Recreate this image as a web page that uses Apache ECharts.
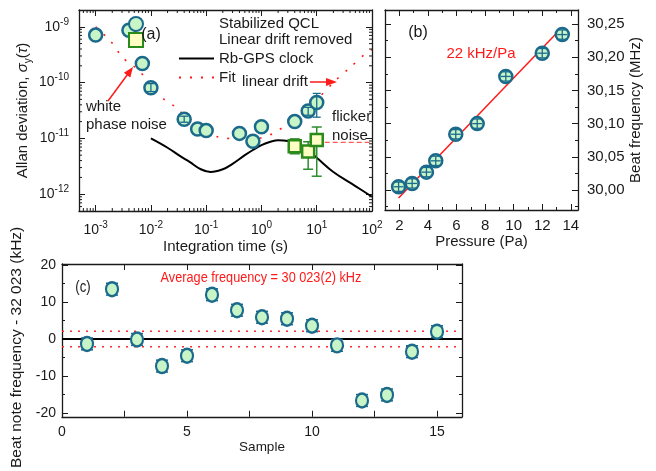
<!DOCTYPE html>
<html>
<head>
<meta charset="utf-8">
<script src="https://cdn.jsdelivr.net/npm/echarts@6/dist/echarts.min.js"></script>
<style>
  html, body { margin: 0; padding: 0; background: #fff; }
  #chart { width: 656px; height: 471px; }
</style>
</head>
<body>
<div id="chart"></div>
<script>
// ---- panel (a): Allan deviation ----
const tauQCL = [0.001, 0.004, 0.007, 0.01, 0.04, 0.07, 0.1, 0.4, 0.7, 1, 4, 7, 10]
const adevQCL = [7.1e-10, 8.7e-10, 2.2e-10, 8.1e-11, 2.2e-11, 1.47e-11, 1.38e-11, 1.23e-11, 8.9e-12, 1.62e-11, 2.0e-11, 3.1e-11, 4.4e-11]
const adevQCLlo = [null, null, null, 6.9e-11, 1.95e-11, null, null, null, null, null, null, 2.6e-11, 2.4e-11]
const adevQCLhi = [null, null, null, 9.6e-11, 2.5e-11, null, null, null, null, null, null, 3.6e-11, 6.4e-11]

const tauLDR = [4, 7, 10]
const adevLDR = [7.2e-12, 5.8e-12, 9.4e-12]
const adevLDRlo = [5.3e-12, 2.8e-12, 2.1e-12]
const adevLDRhi = [9.8e-12, 8.7e-12, 1.6e-11]

const tauRb = [0.01, 0.02, 0.035, 0.05, 0.08, 0.12, 0.2, 0.3, 0.5, 0.7, 1, 1.5, 2, 3, 5, 7, 10, 20, 50, 100]
const adevRb = [1.0e-11, 6.8e-12, 4.7e-12, 3.8e-12, 2.8e-12, 2.5e-12, 2.8e-12, 3.5e-12, 5.0e-12, 6.2e-12, 7.6e-12, 8.8e-12, 9.3e-12, 9.0e-12, 7.6e-12, 6.0e-12, 4.5e-12, 2.5e-12, 1.4e-12, 9e-13]

const tauFit = [0.001, 0.0019, 0.0031, 0.0062, 0.0115, 0.0174, 0.0283, 0.043, 0.065, 0.098, 0.17, 0.3, 0.5, 0.9, 1.55, 2.7, 4.35, 7.1, 10.8, 21.4, 40, 79, 100]
const adevFit = [1.0e-9, 5.4e-10, 2.8e-10, 1.61e-10, 7.5e-11, 5.0e-11, 3.6e-11, 2.4e-11, 1.64e-11, 1.28e-11, 1.05e-11, 9.8e-12, 9.1e-12, 1.0e-11, 1.2e-11, 1.68e-11, 2.3e-11, 3.3e-11, 5.3e-11, 1.07e-10, 1.86e-10, 3.4e-10, 3.9e-10]

const tauFlicker = [10, 100]
const adevFlicker = [8.5e-12, 8.5e-12]

// ---- panel (b): pressure shift ----
const pressure = [1.95, 2.9, 3.9, 4.55, 5.95, 7.45, 9.45, 12.0, 13.4]
const beatFreq = [30.005, 30.010, 30.027, 30.044, 30.084, 30.100, 30.171, 30.206, 30.234]
const pressErr = 0.35
const freqErr = 0.007
const fitPressure = [1.95, 13.4]
const fitFreq = [29.988, 30.245]

// ---- panel (c): repeated measurements ----
const sample = [1, 2, 3, 4, 5, 6, 7, 8, 9, 10, 11, 12, 13, 14, 15]
const beatDev = [-1.3, 13.5, -0.1, -7.3, -4.5, 12.0, 7.8, 5.9, 5.5, 3.6, -1.7, -16.6, -15.1, -3.4, 2.0]
const beatErr = 1.6
const bandHi = 2.1
const bandLo = -2.1

const FONT = 'Liberation Sans, Arial, sans-serif'
const INK = '#1a1a1a'
const RED = '#ff1a1a'
const QCL_FILL = '#c8f5c8'
const QCL_EDGE = '#1b6a8c'
const SQUEEZE = 0.82 // panel (c) is horizontally compressed in the original figure

const zip = (a, b) => a.map((v, i) => [v, b[i]])

// superscript labels for log axes
const logLabel = v => {
  const e = Math.log10(v)
  const r = Math.round(e)
  if (Math.abs(e - r) > 1e-6) return ''
  return '{b|10}{e|' + r + '}'
}
const logRich = {
  b: { fontSize: 14, lineHeight: 20, fontFamily: FONT, color: INK },
  e: { fontSize: 10, lineHeight: 10, verticalAlign: 'top', fontFamily: FONT, color: INK }
}

// minor tick positions on the log axes (2..9 x decade)
function logMinors(lo, hi) {
  const out = []
  for (let e = Math.floor(Math.log10(lo)); e <= Math.ceil(Math.log10(hi)); e++) {
    for (let k = 2; k <= 9; k++) {
      const v = k * Math.pow(10, e)
      if (v > lo * 1.001 && v < hi * 0.999) out.push(v)
    }
  }
  return out
}

const A_X = [5e-4, 100]
const A_Y = [5e-13, 2e-9]

function axisBase(extra) {
  return Object.assign({
    axisLine: { show: true, onZero: false, lineStyle: { color: INK, width: 1.3 } },
    axisTick: { show: true, inside: true, length: 6, lineStyle: { color: INK, width: 1 } },
    splitLine: { show: false },
    nameLocation: 'middle',
    nameTextStyle: { fontSize: 15, fontFamily: FONT, color: INK }
  }, extra)
}
function mirror(extra) {
  return axisBase(Object.assign({ axisLabel: { show: false } }, extra))
}

function errBar(color, cap, lw) {
  return function (params, api) {
    const x = api.value(0)
    const a = api.coord([x, api.value(1)])
    const b = api.coord([x, api.value(2)])
    const st = { stroke: color, lineWidth: lw }
    return {
      type: 'group',
      children: [
        { type: 'line', shape: { x1: a[0], y1: a[1], x2: b[0], y2: b[1] }, style: st },
        { type: 'line', shape: { x1: a[0] - cap, y1: a[1], x2: a[0] + cap, y2: a[1] }, style: st },
        { type: 'line', shape: { x1: b[0] - cap, y1: b[1], x2: b[0] + cap, y2: b[1] }, style: st }
      ]
    }
  }
}

function crossBar(params, api) {
  const x = api.value(0), y = api.value(1)
  const c = api.coord([x, y])
  const l = api.coord([x - pressErr, y])
  const r = api.coord([x + pressErr, y])
  const t = api.coord([x, y + freqErr])
  const b = api.coord([x, y - freqErr])
  const st = { stroke: QCL_EDGE, lineWidth: 1.3 }
  return {
    type: 'group',
    children: [
      { type: 'line', shape: { x1: l[0], y1: c[1], x2: r[0], y2: c[1] }, style: st },
      { type: 'line', shape: { x1: c[0], y1: t[1], x2: c[0], y2: b[1] }, style: st },
      { type: 'line', shape: { x1: c[0] - 4, y1: t[1], x2: c[0] + 4, y2: t[1] }, style: st },
      { type: 'line', shape: { x1: c[0] - 4, y1: b[1], x2: c[0] + 4, y2: b[1] }, style: st }
    ]
  }
}

function minorX(params, api) {
  const cs = params.coordSys
  const px = api.coord([api.value(0), api.value(1)])[0]
  const st = { stroke: INK, lineWidth: 1 }
  return {
    type: 'group',
    children: [
      { type: 'line', shape: { x1: px, y1: cs.y + cs.height, x2: px, y2: cs.y + cs.height - 3 }, style: st },
      { type: 'line', shape: { x1: px, y1: cs.y, x2: px, y2: cs.y + 3 }, style: st }
    ]
  }
}
function minorY(params, api) {
  const cs = params.coordSys
  const py = api.coord([api.value(0), api.value(1)])[1]
  const st = { stroke: INK, lineWidth: 1 }
  return {
    type: 'group',
    children: [
      { type: 'line', shape: { x1: cs.x, y1: py, x2: cs.x + 3, y2: py }, style: st },
      { type: 'line', shape: { x1: cs.x + cs.width, y1: py, x2: cs.x + cs.width - 3, y2: py }, style: st }
    ]
  }
}

function label(text, x, y, opt) {
  opt = opt || {}
  return {
    type: 'text', x: x, y: y, z: 100, scaleX: opt.scaleX || 1,
    style: {
      text: text, x: 0, y: 0, fontSize: opt.size || 15, fontFamily: FONT,
      fill: opt.color || INK, align: opt.align || 'left', verticalAlign: 'middle'
    }
  }
}

const chart = echarts.init(document.getElementById('chart'))

const qclErrData = tauQCL.map((t, i) => [t, adevQCLlo[i], adevQCLhi[i]]).filter(d => d[1] !== null)
const ldrErrData = tauLDR.map((t, i) => [t, adevLDRlo[i], adevLDRhi[i]])

chart.setOption({
  animation: false,
  backgroundColor: '#fff',
  textStyle: { fontFamily: FONT },
  grid: [
    { left: 79, top: 10, width: 293, height: 201 },
    { left: 385, top: 10, width: 193, height: 200 },
    { left: 62, top: 264, width: 400, height: 166 }
  ],
  legend: [
    {
      data: ['Stabilized QCL', 'Linear drift removed'],
      orient: 'vertical', left: 123, top: 11, itemWidth: 14, itemHeight: 14, itemGap: 0,
      selectedMode: false,
      formatter: n => '{s| }{t|' + n + '}',
      textStyle: { rich: { s: { width: 71 }, t: { fontSize: 15, lineHeight: 18.6, fontFamily: FONT, color: INK } } }
    },
    {
      data: ['Rb-GPS clock', 'Fit'],
      orient: 'vertical', left: 173, top: 44, itemWidth: 35, itemHeight: 14, itemGap: 0,
      selectedMode: false,
      itemStyle: { opacity: 0 },
      textStyle: { fontSize: 15, lineHeight: 19, fontFamily: FONT, color: INK }
    }
  ],
  xAxis: [
    axisBase({
      gridIndex: 0, type: 'log', min: A_X[0], max: A_X[1], position: 'bottom',
      name: 'Integration time (s)', nameGap: 28,
      axisLabel: { formatter: logLabel, rich: logRich, margin: 9 }
    }),
    mirror({ gridIndex: 0, type: 'log', min: A_X[0], max: A_X[1], position: 'top' }),
    axisBase({
      gridIndex: 1, type: 'value', min: 1, max: 14.5, splitNumber: 6, position: 'bottom',
      name: 'Pressure (Pa)', nameGap: 24,
      minorTick: { show: true, splitNumber: 2, length: 3 },
      axisLabel: { fontSize: 15, color: INK, margin: 8, formatter: v => (v % 2 === 0 ? String(v) : '') }
    }),
    mirror({
      gridIndex: 1, type: 'value', min: 1, max: 14.5, splitNumber: 6, position: 'top',
      minorTick: { show: true, splitNumber: 2, length: 3 }
    }),
    axisBase({
      gridIndex: 2, type: 'value', min: 0, max: 16, interval: 5, position: 'bottom',
      name: 'Sample', nameGap: 24,
      nameTextStyle: { fontSize: 13.5, fontFamily: FONT, color: INK },
      minorTick: { show: true, splitNumber: 2, length: 6 },
      axisLabel: { fontSize: 14, color: INK, margin: 8, formatter: v => (v % 5 === 0 ? String(v) : '') }
    }),
    mirror({
      gridIndex: 2, type: 'value', min: 0, max: 16, interval: 5, position: 'top',
      minorTick: { show: true, splitNumber: 2, length: 6 }
    })
  ],
  yAxis: [
    axisBase({
      gridIndex: 0, type: 'log', min: A_Y[0], max: A_Y[1], position: 'left',
      name: '{n|Allan deviation, }{i|σ}{s|y}{n|(}{i|τ}{n|)}', nameGap: 46, nameRotate: 90,
      nameTextStyle: {
        rich: {
          n: { fontSize: 15, fontFamily: FONT, color: INK, lineHeight: 20 },
          i: { fontSize: 15, fontFamily: FONT, fontStyle: 'italic', color: INK, lineHeight: 20 },
          s: { fontSize: 10, fontFamily: FONT, color: INK, lineHeight: 10, verticalAlign: 'bottom' }
        }
      },
      axisLabel: { formatter: logLabel, rich: logRich, margin: 10 }
    }),
    mirror({ gridIndex: 0, type: 'log', min: A_Y[0], max: A_Y[1], position: 'right' }),
    axisBase({
      gridIndex: 1, type: 'value', min: 29.97, max: 30.271, position: 'right',
      name: 'Beat frequency (MHz)', nameGap: 50, nameRotate: 90,
      minorTick: { show: true, splitNumber: 2, length: 3 },
      axisLabel: {
        fontSize: 15, color: INK, margin: 9,
        formatter: v => {
          const k = Math.round(v / 0.05)
          return Math.abs(v - k * 0.05) < 1e-6 ? v.toFixed(2).replace('.', ',') : ''
        }
      }
    }),
    mirror({
      gridIndex: 1, type: 'value', min: 29.97, max: 30.271, position: 'left',
      minorTick: { show: true, splitNumber: 2, length: 3 }
    }),
    axisBase({
      gridIndex: 2, type: 'value', min: -21, max: 20.3, position: 'left',
      name: 'Beat note frequency - 32 023 (kHz)', nameGap: 29, nameRotate: 90,
      nameTextStyle: { fontSize: 15.5, fontFamily: FONT, color: INK, padding: [0, 14, 0, 0] },
      minorTick: { show: true, splitNumber: 2, length: 3 },
      axisLabel: { fontSize: 14, color: INK, margin: 6, formatter: v => (v % 10 === 0 ? String(v) : '') }
    }),
    mirror({
      gridIndex: 2, type: 'value', min: -21, max: 20.3, position: 'right',
      minorTick: { show: true, splitNumber: 2, length: 3 }
    })
  ],
  series: [
    // (a)
    {
      name: 'Rb-GPS clock', type: 'line', xAxisIndex: 0, yAxisIndex: 0,
      data: zip(tauRb, adevRb), smooth: 0.4, symbol: 'none',
      lineStyle: { color: '#000', width: 2 }, itemStyle: { color: '#000' }, z: 2
    },
    {
      name: 'Fit', type: 'line', xAxisIndex: 0, yAxisIndex: 0,
      data: zip(tauFit, adevFit), smooth: 0.3, symbol: 'none',
      lineStyle: { color: RED, width: 1.6, type: [2, 9] }, itemStyle: { color: RED }, z: 2
    },
    {
      name: 'flicker', type: 'line', xAxisIndex: 0, yAxisIndex: 0,
      data: zip(tauFlicker, adevFlicker), symbol: 'none',
      lineStyle: { color: '#ff5a5a', width: 1.4, type: [5, 3] }, z: 2
    },
    {
      name: 'Stabilized QCL', type: 'scatter', xAxisIndex: 0, yAxisIndex: 0,
      data: zip(tauQCL, adevQCL), symbol: 'circle', symbolSize: 13,
      itemStyle: { color: QCL_FILL, borderColor: QCL_EDGE, borderWidth: 2.5, opacity: 1 }, z: 3
    },
    {
      name: 'qclErr', type: 'custom', xAxisIndex: 0, yAxisIndex: 0,
      data: qclErrData, encode: { x: 0, y: 1 }, renderItem: errBar(QCL_EDGE, 4, 1.3), z: 4, silent: true
    },
    {
      name: 'ldrErr', type: 'custom', xAxisIndex: 0, yAxisIndex: 0,
      data: ldrErrData, encode: { x: 0, y: 1 }, renderItem: errBar('#2e8b2e', 5, 1.5), z: 4, silent: true
    },
    {
      name: 'Linear drift removed', type: 'scatter', xAxisIndex: 0, yAxisIndex: 0,
      data: zip(tauLDR, adevLDR), symbol: 'rect', symbolSize: 12,
      itemStyle: { color: '#ffffc4', borderColor: '#2a8a1a', borderWidth: 2.5, opacity: 1 }, z: 5
    },
    {
      name: 'minorX', type: 'custom', xAxisIndex: 0, yAxisIndex: 0, clip: false, silent: true,
      data: logMinors(A_X[0], A_X[1]).map(v => [v, 1e-11]), encode: { x: 0, y: 1 }, renderItem: minorX, z: 6
    },
    {
      name: 'minorY', type: 'custom', xAxisIndex: 0, yAxisIndex: 0, clip: false, silent: true,
      data: logMinors(A_Y[0], A_Y[1]).map(v => [1, v]), encode: { x: 0, y: 1 }, renderItem: minorY, z: 6
    },
    // (b)
    {
      name: 'pfit', type: 'line', xAxisIndex: 2, yAxisIndex: 2,
      data: zip(fitPressure, fitFreq), symbol: 'none',
      lineStyle: { color: RED, width: 1.5 }, z: 2
    },
    {
      name: 'pressure', type: 'scatter', xAxisIndex: 2, yAxisIndex: 2,
      data: zip(pressure, beatFreq), symbol: 'circle', symbolSize: 13,
      itemStyle: { color: QCL_FILL, borderColor: QCL_EDGE, borderWidth: 2.5, opacity: 1 }, z: 3
    },
    {
      name: 'pressErr', type: 'custom', xAxisIndex: 2, yAxisIndex: 2,
      data: zip(pressure, beatFreq), encode: { x: 0, y: 1 }, renderItem: crossBar, z: 4, silent: true
    },
    // (c)
    {
      name: 'zero', type: 'line', xAxisIndex: 4, yAxisIndex: 4,
      data: [[0, 0], [16, 0]], symbol: 'none', lineStyle: { color: '#000', width: 2 }, z: 2
    },
    {
      name: 'bandHi', type: 'line', xAxisIndex: 4, yAxisIndex: 4,
      data: [[0, bandHi], [16, bandHi]], symbol: 'none', lineStyle: { color: '#ff2a2a', width: 1.5, type: [2, 6] }, z: 2
    },
    {
      name: 'bandLo', type: 'line', xAxisIndex: 4, yAxisIndex: 4,
      data: [[0, bandLo], [16, bandLo]], symbol: 'none', lineStyle: { color: '#ff2a2a', width: 1.5, type: [2, 6] }, z: 2
    },
    {
      name: 'devErr', type: 'custom', xAxisIndex: 4, yAxisIndex: 4,
      data: sample.map((s, i) => [s, beatDev[i] - beatErr, beatDev[i] + beatErr]),
      encode: { x: 0, y: 1 }, renderItem: errBar(QCL_EDGE, 6, 1.5), z: 3, silent: true
    },
    {
      name: 'samples', type: 'scatter', xAxisIndex: 4, yAxisIndex: 4,
      data: zip(sample, beatDev), symbol: 'circle', symbolSize: [12, 14],
      itemStyle: { color: QCL_FILL, borderColor: QCL_EDGE, borderWidth: 2.3, opacity: 1 }, z: 4
    }
  ],
  graphic: [
    label('(a)', 151, 35, { size: 16, align: 'center' }),
    label('white', 86, 107),
    label('phase noise', 86, 125),
    label('linear drift', 242, 82),
    label('flicker', 332, 117),
    label('noise', 332, 136),
    { type: 'line', z: 100, shape: { x1: 108, y1: 101, x2: 129, y2: 72.5 }, style: { stroke: RED, lineWidth: 1.5 } },
    { type: 'polygon', z: 100, shape: { points: [[133, 67], [130.3, 77.5], [123.9, 72.7]] }, style: { fill: RED } },
    { type: 'line', z: 100, shape: { x1: 310, y1: 82, x2: 328, y2: 82 }, style: { stroke: RED, lineWidth: 1.5 } },
    { type: 'polygon', z: 100, shape: { points: [[337, 82], [326, 78], [326, 86]] }, style: { fill: RED } },
    label('(b)', 418, 33, { size: 16, align: 'center' }),
    label('22 kHz/Pa', 481, 54, { color: RED, align: 'center' }),
    label('(c)', 83, 288, { size: 16, align: 'center', scaleX: SQUEEZE }),
    label('Average frequency = 30 023(2) kHz', 261, 278, { size: 15.5, color: RED, align: 'center', scaleX: SQUEEZE })
  ]
})
</script>
</body>
</html>
